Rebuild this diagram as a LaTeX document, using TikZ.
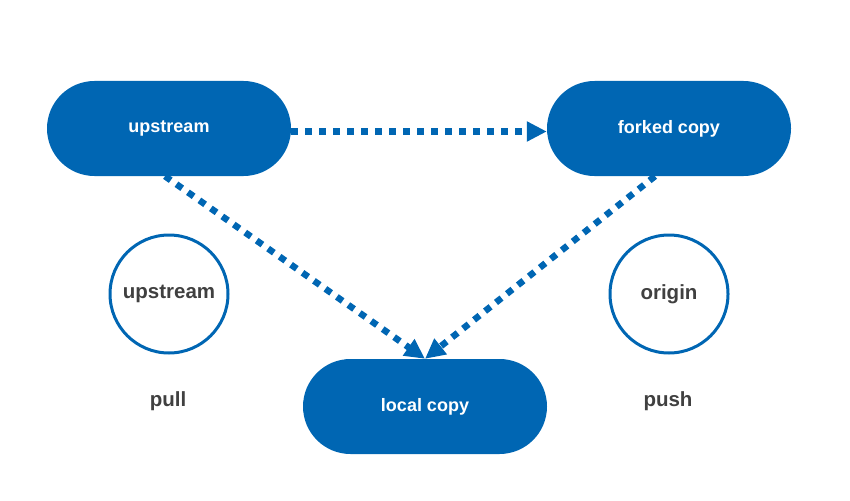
\documentclass[tikz,border=0pt]{standalone}
\usepackage{fontspec}
\setmainfont{Liberation Sans}
\usetikzlibrary{arrows.meta}
\definecolor{gitblue}{RGB}{0,102,179}
\definecolor{labelgray}{RGB}{64,64,64}

\begin{document}
\begin{tikzpicture}[x=1pt,y=-1pt]
\tikzstyle{repo}=[rectangle,rounded corners=47.5pt,fill=gitblue,text=white,minimum width=244pt,minimum height=95pt,font=\fontsize{18}{21}\selectfont\bfseries]
\tikzstyle{remote}=[circle,draw=gitblue,line width=3pt,minimum size=118pt,text=labelgray,font=\fontsize{20.5}{24}\selectfont\bfseries]
\tikzstyle{verb}=[text=labelgray,font=\fontsize{20.5}{24}\selectfont\bfseries]
\tikzstyle{flow}=[draw=gitblue,line width=6.5pt,dash pattern=on 7pt off 7pt,-{Triangle[length=20pt,width=19pt]}]
\useasboundingbox (0,0) rectangle (850,500);
\node[repo](U) at (169,128.5) {upstream};
\node[repo](F) at (669,128.5) {forked copy};
\node[repo](L) at (425,406.5) {local copy};
\node[remote](RU) at (169,294) {upstream};
\node[remote](RO) at (669,294) {origin};
\node[verb](pull) at (168,401) {pull};
\node[verb](push) at (668,401) {push};

\draw[flow] ([yshift=-3pt]U.east) -- ([yshift=-3pt]F.west);
\draw[flow] ([xshift=-4pt]U.south) -- (L.north);
\draw[flow] ([xshift=-14pt]F.south) -- (L.north);
\end{tikzpicture}
\end{document}
